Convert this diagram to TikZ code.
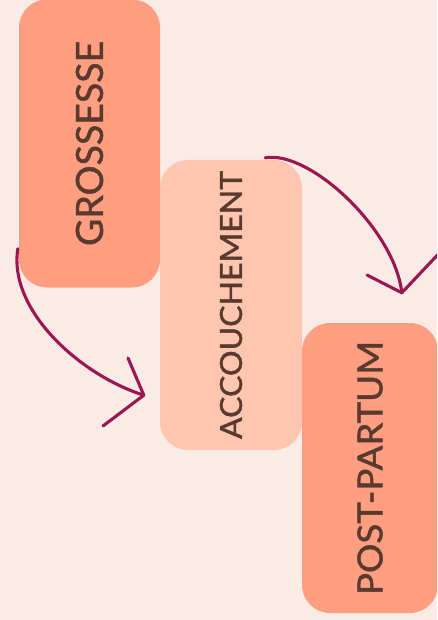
\documentclass[tikz,border=0pt]{standalone}
\usepackage{fontspec}
\usepackage{graphicx}
\setmainfont{Lato}
\newfontfamily\stagefont{Lato}[FakeBold=1.3]
\usetikzlibrary{calc}
\definecolor{bgc}{HTML}{FAEBE6}
\definecolor{salmon}{HTML}{FF9E80}
\definecolor{peach}{HTML}{FEC6B0}
\definecolor{txtc}{HTML}{5A3A2E}
\definecolor{arrc}{HTML}{9A1750}
\begin{document}
\begin{tikzpicture}[x=1pt,y=-1pt,
  stage/.style={rounded corners=28pt, inner sep=0pt, rotate=90, text=txtc,
    font=\stagefont\fontsize{36}{40}\selectfont},
  arrowline/.style={draw=arrc, line width=3.1pt, line cap=round, line join=round}]
\fill[bgc] (0,0) rectangle (437,620);
\useasboundingbox (0,0) rectangle (437,620);
\clip (0,0) rectangle (437,620);
\node[stage, fill=salmon, minimum width=288pt, minimum height=141pt] (g) at (89.5,143.5)
  {\resizebox{205pt}{27pt}{GROSSESSE}};
\node[stage, fill=peach, minimum width=290pt, minimum height=142pt] (a) at (231,305)
  {\resizebox{268pt}{22pt}{ACCOUCHEMENT}};
\node[stage, fill=salmon, minimum width=290pt, minimum height=136pt] (p) at (370,468)
  {\resizebox{254pt}{25pt}{POST-PARTUM}};
% connector endpoints
\coordinate (s1) at ($(g.north west)+(-1,-39)$);
\coordinate (t1) at ($(a.north west)+(-16,-55)$);
\coordinate (s2) at ($(a.south east)+(-37,-2)$);
\coordinate (t2) at ($(p.north east)+(100,-30)$);
\draw[arrowline] (s1) .. controls (8,310) and (80,375) .. (t1);
\draw[arrowline] (128,358) -- (t1) -- (103,426);
\draw[arrowline] (s2) .. controls (310,150) and (395,230) .. (t2);
\draw[arrowline] (367,275) -- (t2) -- (445,247);
\end{tikzpicture}
\end{document}
